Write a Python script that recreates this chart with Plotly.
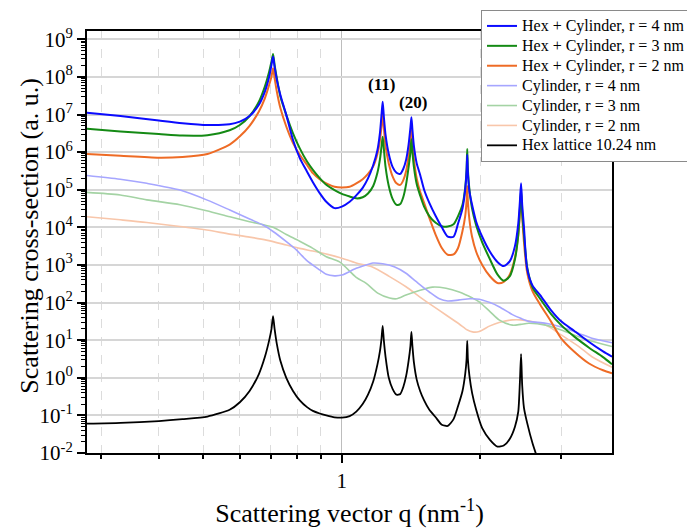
import numpy as np
import plotly.graph_objects as go

# Scattering vector q (nm^-1), shared grid for the lattice-bearing curves
q_grid = [0.279, 0.33, 0.40, 0.45, 0.51, 0.57, 0.60, 0.63, 0.66, 0.68,
          0.695, 0.703, 0.7085, 0.714, 0.722, 0.735, 0.757, 0.783, 0.81, 0.84,
          0.865, 0.895, 0.925, 0.964, 1.0, 1.04, 1.075, 1.11, 1.14, 1.17,
          1.195, 1.21, 1.22, 1.227, 1.234, 1.245, 1.265, 1.29, 1.315, 1.34,
          1.36, 1.38, 1.397, 1.41, 1.417, 1.424, 1.435, 1.455, 1.48, 1.51,
          1.55, 1.6, 1.65, 1.7, 1.75, 1.79, 1.83, 1.855, 1.868, 1.874,
          1.88, 1.895, 1.92, 1.96, 2.02, 2.1, 2.18, 2.25, 2.32, 2.38,
          2.42, 2.44, 2.454, 2.468, 2.49, 2.53, 2.6, 2.7, 2.85, 3.0,
          3.2, 3.45, 3.7, 3.87]

# Intensities given in decades (log10 of a.u.)
hex_cyl_r4_log = [7.05, 6.96, 6.84, 6.77, 6.72, 6.74, 6.81, 6.96, 7.26, 7.61,
                  8.01, 8.32, 8.54, 8.27, 7.92, 7.52, 6.99, 6.32, 5.84, 5.48,
                  5.20, 4.91, 4.68, 4.51, 4.55, 4.68, 4.85, 5.05, 5.30, 5.65,
                  6.05, 6.50, 7.00, 7.34, 6.95, 6.45, 5.95, 5.60, 5.45, 5.42,
                  5.55, 5.80, 6.20, 6.65, 6.93, 6.60, 6.15, 5.70, 5.40, 5.00,
                  4.65, 4.30, 4.00, 3.75, 3.75, 4.10, 4.50, 5.00, 5.50, 5.93,
                  5.45, 4.95, 4.60, 4.15, 3.75, 3.35, 3.08, 2.97, 3.10, 3.50,
                  4.10, 4.70, 5.17, 4.60, 4.00, 2.90, 2.45, 2.20, 1.80, 1.50,
                  1.25, 0.95, 0.70, 0.56]

hex_cyl_r3_log = [6.62, 6.55, 6.48, 6.44, 6.45, 6.58, 6.72, 6.96, 7.34, 7.74,
                  8.14, 8.41, 8.61, 8.32, 7.97, 7.48, 6.99, 6.50, 6.10, 5.75,
                  5.53, 5.31, 5.13, 4.99, 4.89, 4.82, 4.77, 4.80, 4.90, 5.10,
                  5.45, 5.80, 6.15, 6.41, 6.10, 5.60, 5.10, 4.75, 4.60, 4.62,
                  4.80, 5.15, 5.60, 6.00, 6.34, 6.00, 5.60, 5.15, 4.85, 4.55,
                  4.30, 4.12, 4.03, 4.02, 4.08, 4.30, 4.60, 5.05, 5.55, 6.08,
                  5.55, 5.00, 4.50, 4.05, 3.60, 3.15, 2.75, 2.58, 2.70, 3.15,
                  3.80, 4.50, 5.00, 4.40, 3.80, 2.95, 2.40, 2.10, 1.70, 1.40,
                  1.10, 0.80, 0.55, 0.36]

hex_cyl_r2_log = [5.95, 5.90, 5.85, 5.87, 5.95, 6.20, 6.42, 6.70, 7.08, 7.43,
                  7.79, 8.01, 8.23, 7.97, 7.61, 7.17, 6.68, 6.24, 5.93, 5.66,
                  5.44, 5.28, 5.17, 5.08, 5.06, 5.08, 5.17, 5.28, 5.42, 5.62,
                  5.95, 6.30, 6.70, 7.03, 6.65, 6.15, 5.70, 5.35, 5.17, 5.13,
                  5.25, 5.50, 5.90, 6.30, 6.59, 6.25, 5.80, 5.30, 4.95, 4.65,
                  4.25, 3.80, 3.45, 3.27, 3.28, 3.45, 3.90, 4.30, 4.70, 5.10,
                  4.70, 4.20, 3.75, 3.35, 3.00, 2.70, 2.52, 2.55, 2.75, 3.20,
                  3.80, 4.40, 4.90, 4.30, 3.60, 2.80, 2.30, 1.95, 1.50, 1.05,
                  0.70, 0.38, 0.20, 0.12]

# Hex lattice (a = 10.24 nm) structure factor, on the first 78 grid points
hex_lattice_log = [-1.22, -1.20, -1.15, -1.10, -1.03, -0.85, -0.65, -0.35, 0.10, 0.55,
                   1.00, 1.30, 1.64, 1.30, 0.90, 0.45, 0.00, -0.35, -0.60, -0.78,
                   -0.88, -0.95, -1.00, -1.05, -1.06, -1.02, -0.90, -0.70, -0.45, -0.10,
                   0.35, 0.70, 1.05, 1.38, 1.00, 0.55, 0.00, -0.30, -0.45, -0.43,
                   -0.25, 0.05, 0.45, 0.85, 1.22, 0.85, 0.40, -0.05, -0.35, -0.60,
                   -0.85, -1.05, -1.25, -1.28, -1.10, -0.75, -0.35, 0.10, 0.50, 0.98,
                   0.50, 0.05, -0.40, -0.85, -1.34, -1.65, -1.83, -1.80, -1.62, -1.30,
                   -0.90, -0.10, 0.63, -0.20, -0.80, -1.20, -1.75, -2.35]

# Bare cylinder form factors
q_cyl_r4 = [0.279, 0.3295, 0.3764, 0.4446, 0.508, 0.5706, 0.63, 0.674, 0.7085, 0.7574,
            0.7963, 0.837, 0.8946, 0.925, 0.964, 1.0, 1.0746, 1.13, 1.168, 1.227,
            1.30, 1.379, 1.45, 1.55, 1.63, 1.70, 1.80, 1.90, 1.99, 2.1,
            2.198, 2.35, 2.45, 2.55, 2.776, 3.0, 3.279, 3.5, 3.87]
cyl_r4_log = [5.38, 5.28, 5.17, 4.99, 4.73, 4.46, 4.22, 4.06, 3.89, 3.62,
              3.40, 3.13, 2.87, 2.75, 2.71, 2.73, 2.91, 3.00, 3.05, 3.03,
              2.95, 2.78, 2.56, 2.28, 2.10, 2.04, 2.07, 2.10, 2.09, 2.00,
              1.89, 1.68, 1.58, 1.50, 1.45, 1.35, 1.18, 1.05, 0.93]

q_cyl_r3 = [0.279, 0.3295, 0.3764, 0.4446, 0.508, 0.5706, 0.63, 0.7085, 0.7574, 0.8097,
            0.865, 0.925, 0.9886, 1.0746, 1.13, 1.197, 1.27, 1.316, 1.379, 1.474,
            1.576, 1.685, 1.8, 1.924, 1.99, 2.1, 2.198, 2.35, 2.45, 2.55,
            2.776, 3.0, 3.279, 3.5, 3.87]
cyl_r3_log = [4.93, 4.86, 4.73, 4.60, 4.44, 4.28, 4.15, 4.00, 3.81, 3.63,
              3.44, 3.22, 3.08, 2.67, 2.51, 2.25, 2.12, 2.10, 2.20, 2.32,
              2.41, 2.38, 2.28, 2.12, 2.02, 1.76, 1.54, 1.40, 1.42, 1.45,
              1.40, 1.27, 1.09, 0.97, 0.83]

q_cyl_r2 = [0.279, 0.3295, 0.3764, 0.4446, 0.508, 0.5706, 0.63, 0.6855, 0.7574, 0.8097,
            0.865, 0.925, 0.9886, 1.0746, 1.168, 1.27, 1.379, 1.474, 1.576, 1.685,
            1.80, 1.876, 1.924, 1.99, 2.1, 2.198, 2.35, 2.45, 2.554, 2.776,
            3.0, 3.279, 3.5, 3.87]
cyl_r2_log = [4.28, 4.20, 4.13, 4.02, 3.93, 3.82, 3.74, 3.66, 3.53, 3.44,
              3.37, 3.29, 3.20, 3.05, 2.94, 2.69, 2.42, 2.16, 1.91, 1.67,
              1.43, 1.27, 1.22, 1.23, 1.38, 1.47, 1.54, 1.54, 1.51, 1.40,
              1.14, 0.83, 0.56, 0.28]

peak_labels = ["(11)", "(20)"]
peak_label_q = [1.222, 1.427]
peak_label_decade = [7.79, 7.32]

SERIF = "Liberation Serif"

fig = go.Figure()


def add_curve(q, logs, name, color, width, rank, smoothing):
    fig.add_trace(go.Scatter(
        x=q, y=np.power(10.0, np.asarray(logs)), mode="lines",
        name='<span style="font-size:16px">%s</span>' % name,
        line=dict(color=color, width=width, shape="spline", smoothing=smoothing),
        legendrank=rank))


# faint cylinder curves drawn underneath
add_curve(q_cyl_r2, cyl_r2_log, "Cylinder, r = 2 nm", "#f8c6aa", 1.6, 6, 0.8)
add_curve(q_cyl_r3, cyl_r3_log, "Cylinder, r = 3 nm", "#a4d3a4", 1.6, 5, 0.8)
add_curve(q_cyl_r4, cyl_r4_log, "Cylinder, r = 4 nm", "#a6a6ff", 1.6, 4, 0.8)
add_curve(q_grid[:len(hex_lattice_log)], hex_lattice_log, "Hex lattice 10.24 nm", "#000000", 1.8, 7, 0.6)
add_curve(q_grid, hex_cyl_r2_log, "Hex + Cylinder, r = 2 nm", "#ee6b25", 2.0, 3, 0.7)
add_curve(q_grid, hex_cyl_r3_log, "Hex + Cylinder, r = 3 nm", "#148a14", 2.0, 2, 0.7)
add_curve(q_grid, hex_cyl_r4_log, "Hex + Cylinder, r = 4 nm", "#0b0bff", 2.0, 1, 0.7)

for text, q, dec in zip(peak_labels, peak_label_q, peak_label_decade):
    fig.add_annotation(x=np.log10(q), y=dec, xref="x", yref="y", text="<b>%s</b>" % text,
                       showarrow=False, font=dict(family=SERIF, size=17, color="black"))

# vertical axis title
fig.add_annotation(x=-0.1086, y=0.515, xref="paper", yref="paper", xanchor="center",
                   yanchor="middle", textangle=-90, showarrow=False,
                   text="Scattering cross-section (a. u.)",
                   font=dict(family=SERIF, size=26, color="black"))

decades = list(range(-2, 10))
y_minor = [k * 10.0 ** e for e in range(-2, 9) for k in range(2, 10)]

fig.update_layout(
    width=687, height=528,
    margin=dict(l=87, r=75, t=31, b=75, autoexpand=False),
    paper_bgcolor="white", plot_bgcolor="white",
    font=dict(family=SERIF, size=16, color="black"),
    showlegend=True,
    legend=dict(x=0.7505, y=1.0498, xanchor="left", yanchor="top",
                bgcolor="white", bordercolor="#8a8a8a", borderwidth=1,
                font=dict(family=SERIF, size=13, color="black"),
                tracegroupgap=0, itemwidth=30),
    xaxis=dict(
        type="log", range=[np.log10(0.279), np.log10(3.87)],
        tickvals=[1], ticktext=["1"], ticks="outside", ticklen=8, tickwidth=2,
        tickcolor="black", tickfont=dict(family=SERIF, size=21),
        showgrid=True, gridcolor="#bdbdbd", gridwidth=1,
        showline=True, linecolor="black", linewidth=2, mirror=True, zeroline=False,
        minor=dict(tickvals=[0.3, 0.4, 0.5, 0.6, 0.7, 0.8, 0.9, 2, 3], ticks="outside",
                   ticklen=4, tickwidth=1.5, tickcolor="black", showgrid=True,
                   gridcolor="#dcdcdc", griddash="dash", gridwidth=1),
        title=dict(text="Scattering vector q (nm<sup>-1</sup>)",
                   font=dict(family=SERIF, size=26), standoff=22),
    ),
    yaxis=dict(
        type="log", range=[-2, 9.22],
        tickvals=[10.0 ** d for d in decades],
        ticktext=["10<sup>%d</sup>" % d for d in decades],
        ticks="outside", ticklen=8, tickwidth=2, tickcolor="black",
        tickfont=dict(family=SERIF, size=21),
        showgrid=True, gridcolor="#d6d6d6", gridwidth=1.5,
        showline=True, linecolor="black", linewidth=2, mirror=True, zeroline=False,
        minor=dict(tickvals=y_minor, ticks="outside", ticklen=4, tickwidth=1,
                   tickcolor="black", showgrid=False),
    ),
)

fig.write_html("out.html")
